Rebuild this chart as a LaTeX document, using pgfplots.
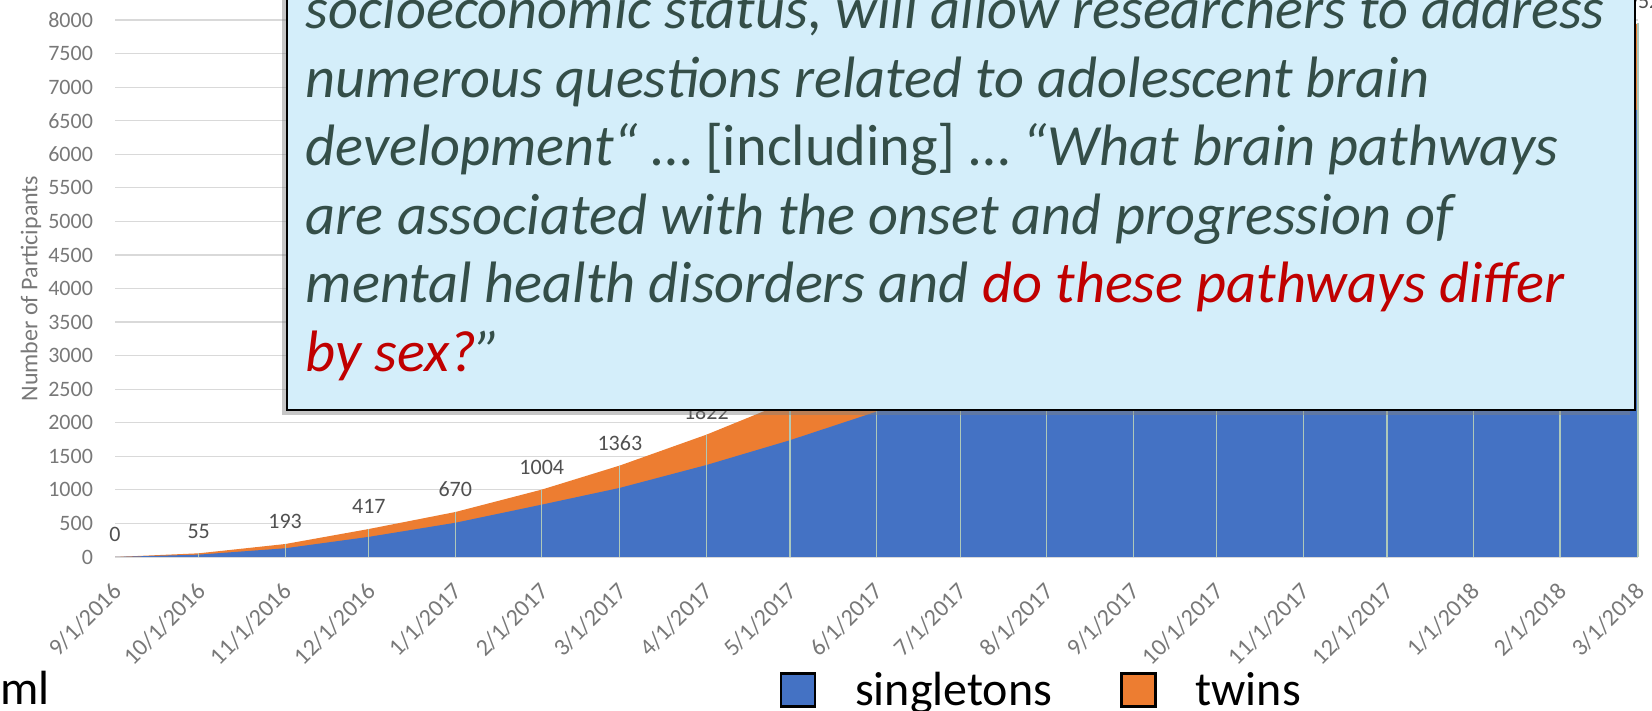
\documentclass[border=0pt]{standalone}
\usepackage{pgfplots}
\pgfplotsset{compat=1.18}
\usepackage{pgfplotstable}
\usepackage{fontspec}
\setmainfont{Carlito}
\usetikzlibrary{shadows}

\definecolor{sblue}{RGB}{68,114,196}
\definecolor{torange}{RGB}{237,125,49}
\definecolor{boxfill}{RGB}{212,238,250}
\definecolor{quotec}{RGB}{52,78,72}
\definecolor{qred}{RGB}{192,0,0}
\definecolor{ticklab}{RGB}{120,120,120}
\definecolor{datalab}{RGB}{80,80,80}
\definecolor{gridc}{RGB}{217,217,217}
\definecolor{dropc}{RGB}{175,200,185}

\pgfplotstableread{
d s t total
0 0 0 0
30 35 20 55
61 130 63 193
91 300 117 417
122 510 160 670
153 780 224 1004
181 1030 333 1363
212 1370 452 1822
242 1740 590 2330
273 2165 685 2850
303 2620 780 3400
334 3090 860 3950
365 3600 950 4550
395 4100 1050 5150
426 4620 1130 5750
456 5090 1210 6300
487 5580 1270 6850
518 6130 1270 7400
546 6670 1282 7952
}\data

\begin{document}
\begin{tikzpicture}
\begin{axis}[
  name=ax,
  scale only axis,
  width=761.5pt, height=268.5pt,
  xmin=0, xmax=546, ymin=0, ymax=8000,
  clip=false,
  axis line style={draw=none},
  tick style={draw=none},
  major tick length=0pt,
  ytick={0,500,...,8000},
  ymajorgrids,
  grid style={gridc, line width=0.6pt},
  /pgf/number format/assume math mode=true,
  /pgf/number format/1000 sep={},
  yticklabel style={font=\fontsize{11}{12}\selectfont, color=ticklab, xshift=-7.5pt},
  xtick={0,30,61,91,122,153,181,212,242,273,303,334,365,395,426,456,487,518,546},
  xticklabels={9/1/2016,10/1/2016,11/1/2016,12/1/2016,1/1/2017,2/1/2017,3/1/2017,4/1/2017,5/1/2017,6/1/2017,7/1/2017,8/1/2017,9/1/2017,10/1/2017,11/1/2017,12/1/2017,1/1/2018,2/1/2018,3/1/2018},
  xticklabel style={font=\fontsize{12}{13}\selectfont, color=ticklab, xshift=-1.9pt, yshift=-7.2pt, rotate=45, anchor=north east},
  ylabel={Number of Participants},
  ylabel style={font=\fontsize{12}{14}\selectfont, color=ticklab, at={(axis description cs:-0.0552,0.5)}, anchor=center},
  legend columns=2,
  legend style={draw=none, fill=none, font=\fontsize{24}{28}\selectfont,
    at={(0.4363,-0.2477)}, anchor=west, inner sep=0pt,
    nodes={inner ysep=0pt},
    /tikz/every even column/.append style={column sep=32pt}},
  legend image code/.code={\draw[#1, draw=black, line width=1.2pt] (0pt,-8.25pt) rectangle (17pt,8.25pt); \path[draw=none, fill=none] (0pt,-1pt) rectangle (35pt,1pt);},
]
\addplot[draw=none, fill=torange, forget plot] table[x=d, y=total]{\data} \closedcycle;
\addplot[draw=none, fill=sblue] table[x=d, y=s]{\data} \closedcycle;
\addlegendentry{singletons}
\addlegendimage{draw=none, fill=torange}
\addlegendentry{twins}
\addplot[ycomb, dropc, line width=0.6pt, mark=none, forget plot] table[x=d, y=total]{\data};
% data labels (those hidden behind the text box are left out)
\addplot[draw=none, mark=none, forget plot, nodes near coords, point meta=explicit,
  x filter/.expression={(x>220 && x<540) ? nan : x},
  every node near coord/.style={font=\fontsize{11}{12}\selectfont, color=datalab, anchor=south, yshift=4pt}]
  table[x=d, y=total, meta=total]{\data};
\end{axis}
\begin{scope}[shift={(ax.south west)}]
\draw[line width=1pt, fill=boxfill, drop shadow={shadow xshift=-2.5pt, shadow yshift=-2.5pt, opacity=0.45}] (86pt,73.5pt) rectangle (760pt,300pt);
\begin{scope}[every node/.style={anchor=base west, inner sep=0pt, font=\fontsize{29.2}{34}\selectfont\itshape, text=quotec}]
\node at (95.25pt,264.1pt) {socioeconomic status, will allow researchers to address};
\node at (95.25pt,229.9pt) {numerous questions related to adolescent brain};
\node at (95.25pt,195.6pt) {development“ {\upshape … [including] …} “What brain pathways};
\node at (95.25pt,161.4pt) {are associated with the onset and progression of};
\node at (95.25pt,127.1pt) {mental health disorders and \textcolor{qred}{do these pathways differ}};
\node at (95.25pt,92.9pt) {\textcolor{qred}{by sex?}”};
\end{scope}
\node[anchor=base east, inner sep=0pt, font=\fontsize{24}{28}\selectfont] at (-32.5pt,-73.5pt) {ml};
\pgfresetboundingbox
\useasboundingbox (-57.5pt,-77pt) rectangle (768.5pt,278.5pt);
\end{scope}
\end{tikzpicture}
\end{document}
